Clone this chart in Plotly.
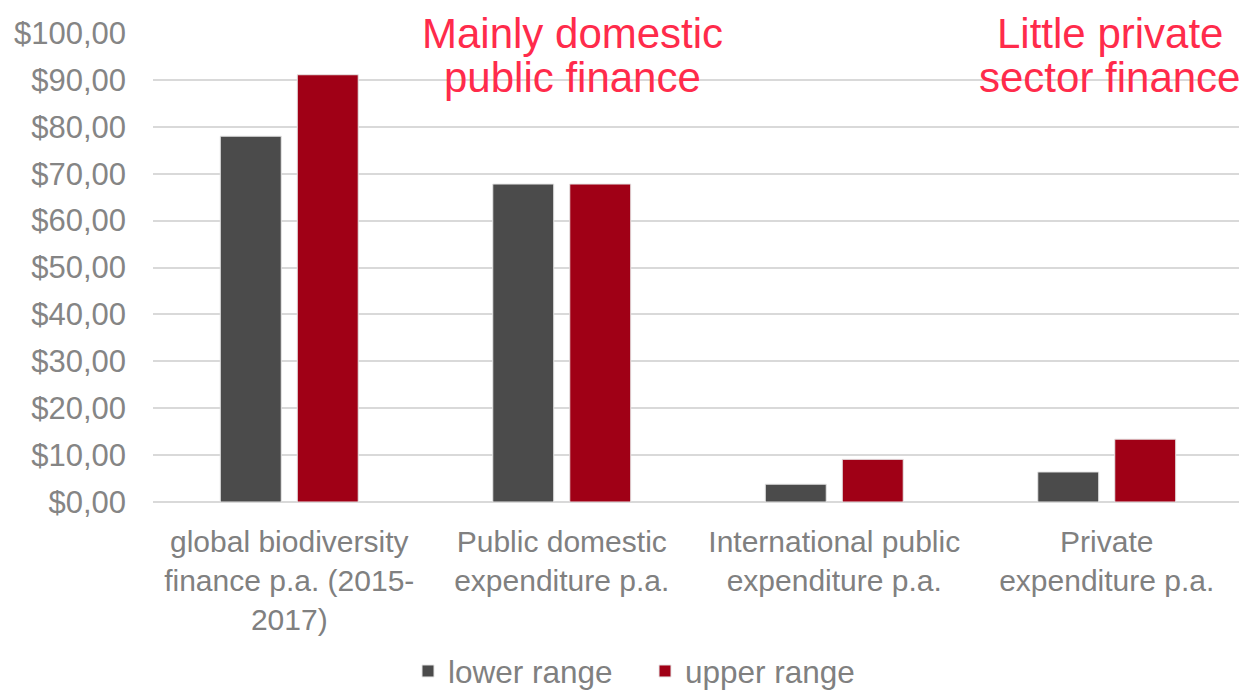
import plotly.graph_objects as go

categories = [
    "global biodiversity<br>finance p.a. (2015-<br>2017)",
    "Public domestic<br>expenditure p.a.",
    "International public<br>expenditure p.a.",
    "Private<br>expenditure p.a.",
]
lower_range = [78.0, 67.8, 3.8, 6.4]
upper_range = [91.1, 67.8, 9.1, 13.4]
y_ticks = [0, 10, 20, 30, 40, 50, 60, 70, 80, 90, 100]
y_tick_labels = ["$%d,00" % v for v in y_ticks]

FONT = "Liberation Sans, Arial, sans-serif"
# the page body has an 8px margin, so the figure is sized to fit the window
OFF = 8
W, H = 1247 - OFF, 690 - OFF
L, T = 153 - OFF, 33 - OFF
pw, ph = 1090, 469
R, B = W - L - pw, H - T - ph

def px_x(px):
    return (px - OFF - L) / pw

def px_y(py):
    return (T + ph - (py - OFF)) / ph

fig = go.Figure()
fig.add_trace(go.Bar(name="lower range", x=categories, y=lower_range,
                     marker=dict(color="#4b4b4b", line=dict(color="#e6e6e6", width=1))))
fig.add_trace(go.Bar(name="upper range", x=categories, y=upper_range,
                     marker=dict(color="#a00016", line=dict(color="#e6e6e6", width=1))))

red = "#ff2b4b"
notes = [
    ("Mainly domestic", 572, 33),
    ("public finance", 572, 78),
    ("Little private", 1110, 33),
    ("sector finance", 1109, 78),
]
for txt, x, y in notes:
    fig.add_annotation(text=txt, x=px_x(x), y=px_y(y), xref="paper", yref="paper",
                       xanchor="center", yanchor="middle", showarrow=False,
                       font=dict(family=FONT, size=42, color=red))

fig.update_layout(
    width=W, height=H,
    margin=dict(l=L, r=R, t=T, b=B, pad=0, autoexpand=False),
    paper_bgcolor="white", plot_bgcolor="white",
    barmode="group", bargap=0.435, bargroupgap=0.208,
    font=dict(family=FONT, color="#808080"),
    legend=dict(orientation="h", x=px_x(645), xanchor="center",
                y=px_y(671), yanchor="middle",
                font=dict(family=FONT, size=31.5, color="#808080"),
                entrywidth=192, entrywidthmode="pixels",
                traceorder="normal"),
    showlegend=True,
)
fig.update_yaxes(range=[0, 100], tickvals=y_ticks, ticktext=y_tick_labels,
                 showgrid=True, gridcolor="#d9d9d9", gridwidth=1.5,
                 zeroline=True, zerolinecolor="#d9d9d9", zerolinewidth=1.5,
                 showline=False, ticks="", ticklabelstandoff=26,
                 tickfont=dict(family=FONT, size=31, color="#858585"))
fig.update_xaxes(showgrid=False, showline=False, ticks="", ticklabelstandoff=19,
                 tickfont=dict(family=FONT, size=30, color="#808080"))

fig.write_html("out.html")
